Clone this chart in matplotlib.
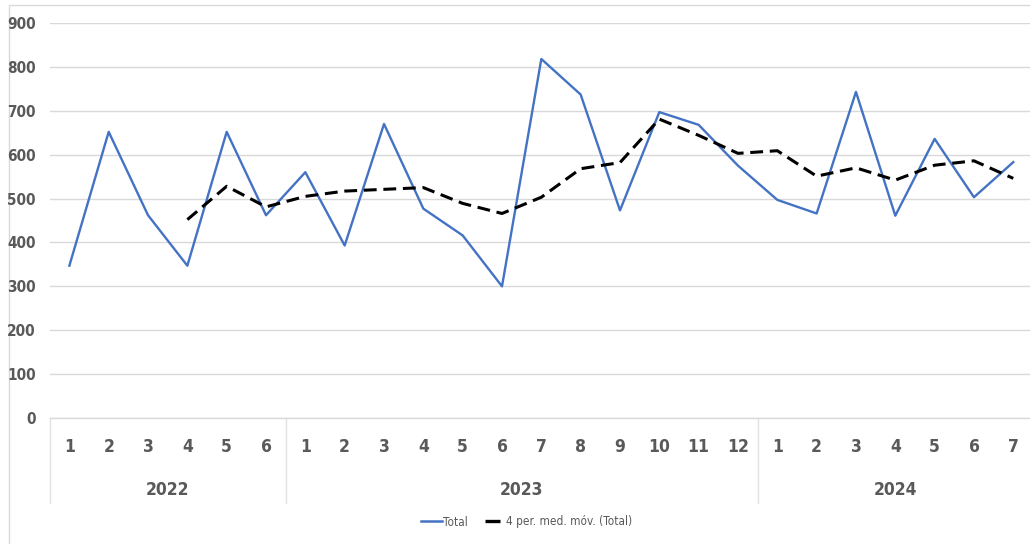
import matplotlib
matplotlib.use("Agg")
import matplotlib.pyplot as plt
from matplotlib.patches import Rectangle
from matplotlib.lines import Line2D

years = ["2022", "2023", "2024"]
months_per_year = [6, 12, 7]
months = [1, 2, 3, 4, 5, 6,
          1, 2, 3, 4, 5, 6, 7, 8, 9, 10, 11, 12,
          1, 2, 3, 4, 5, 6, 7]
total = [347, 652, 462, 347, 652, 462,
         560, 393, 670, 477, 416, 300, 818, 737, 473, 697, 668, 575,
         497, 466, 743, 461, 636, 503, 583]
# 4-period moving average (as drawn, starts at the 4th period)
mov_avg = [None, None, None, 452, 528, 481,
           505, 517, 521, 525, 489, 466, 503, 568, 582, 681, 644, 603,
           609, 551, 570, 542, 576, 586, 546]
yticks = [0, 100, 200, 300, 400, 500, 600, 700, 800, 900]

plt.rcParams["font.family"] = ["DejaVu Sans"]
plt.rcParams["font.stretch"] = "condensed"
GRAY = "#595959"

W, H = 1030, 544
fig = plt.figure(figsize=(W / 100, H / 100), dpi=100)
fig.patch.set_facecolor("white")
border = Rectangle((9 / W, -0.01), 1.02 - 9 / W, (544 - 5) / H + 0.01,
                   transform=fig.transFigure, fill=False,
                   edgecolor="#d9d9d9", linewidth=1.0, zorder=-5)
fig.patches.append(border)

ax_left, ax_right = 49.7, 1030
y0, y900 = 418, 23
ax = fig.add_axes([ax_left / W, (H - y0) / H, (ax_right - ax_left) / W, (y0 - y900) / H])
spacing = 39.33
x = list(range(len(total)))
ax.set_xlim(-0.5, -0.5 + (ax_right - ax_left) / spacing)
ax.set_ylim(0, 900)

for s in ax.spines.values():
    s.set_visible(False)
ax.set_yticks(yticks)
ax.yaxis.grid(True, color="#d9d9d9", linewidth=1.0)
ax.set_axisbelow(True)
ax.tick_params(axis="y", length=0, pad=10, labelsize=11, labelcolor=GRAY)
for lbl in ax.get_yticklabels():
    lbl.set_fontweight("bold")
    lbl.set_fontstretch("condensed")
ax.set_xticks([])

ax.plot(x, total, color="#4472C4", linewidth=1.7, label="Total", zorder=3)
ma_x = [i for i, v in zip(x, mov_avg) if v is not None]
ma_y = [v for v in mov_avg if v is not None]
DASH = (0, (4.2, 2.2))
ax.plot(ma_x, ma_y, color="black", linewidth=2.2, linestyle=DASH,
        label="4 per. med. móv. (Total)", zorder=4)

trans = ax.get_xaxis_transform()
sep_bottom = (y0 - 503) / (y0 - y900)
month_y = (y0 - 447) / (y0 - y900)
year_y = (y0 - 490) / (y0 - y900)

pos = 0
seps = [-0.5]
for yr, n in zip(years, months_per_year):
    centre = pos + (n - 1) / 2
    ax.text(centre, year_y, yr, transform=trans, ha="center", va="center",
            fontsize=12.5, fontweight="bold", fontstretch="condensed", color=GRAY)
    pos += n
    seps.append(pos - 0.5)
for sx in seps[:-1]:
    ax.plot([sx, sx], [0, sep_bottom], transform=trans, color="#e3e3e3",
            linewidth=1.0, clip_on=False)
for i, m in zip(x, months):
    ax.text(i, month_y, str(m), transform=trans, ha="center", va="center",
            fontsize=12.5, fontweight="bold", fontstretch="condensed", color=GRAY)
ax.plot([-0.5, 30], [0, 0], transform=trans, color="#d9d9d9", linewidth=1.0, clip_on=False)

handles = [Line2D([], [], color="#4472C4", linewidth=1.8),
           Line2D([], [], color="black", linewidth=2.4, linestyle=(0, (4.5, 3.0)))]
leg = fig.legend(handles, ["Total", "4 per. med. móv. (Total)"], loc="center",
                 bbox_to_anchor=(527 / W, (H - 522) / H), ncol=2, frameon=False,
                 fontsize=8.5, handlelength=1.7, handletextpad=0.1, columnspacing=1.5,
                 labelcolor=GRAY)
for t in leg.get_texts():
    t.set_fontstretch("condensed")

fig.savefig("out.png", dpi=100)
